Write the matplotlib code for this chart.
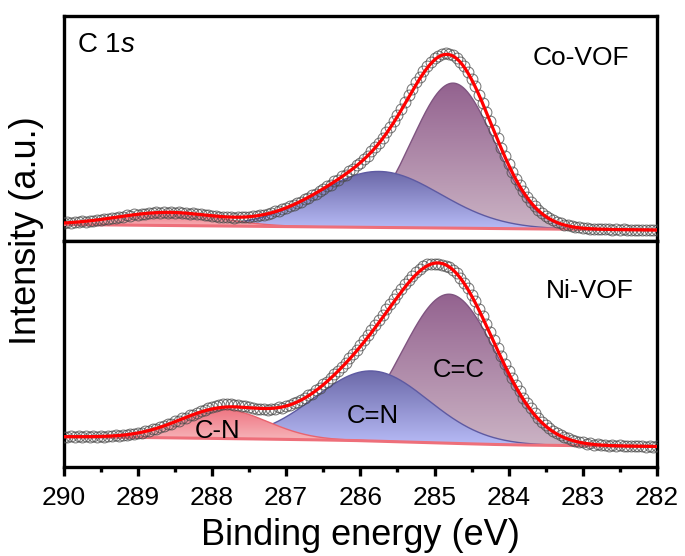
import numpy as np
import matplotlib
matplotlib.use("Agg")
import matplotlib.pyplot as plt
from matplotlib.colors import LinearSegmentedColormap
from matplotlib.path import Path
from matplotlib.ticker import MultipleLocator

plt.rcParams['font.family'] = ['Liberation Sans', 'DejaVu Sans']
plt.rcParams['mathtext.fontset'] = 'custom'
plt.rcParams['mathtext.rm'] = 'Liberation Sans'
plt.rcParams['mathtext.it'] = 'Liberation Sans:italic'

# ---- C 1s scan: binding energy grid (eV) ----
be_start, be_stop, be_step = 282.0, 290.0, 0.05

# measured intensities (a.u.), from 282.00 eV up to 290.00 eV
co_counts = [
    10.3, 10.0, 10.4, 9.9, 10.2, 10.5, 10.1, 10.4, 10.0, 10.6,
    10.3, 10.8, 10.4, 10.9, 10.6, 11.1, 10.8, 11.4, 11.2, 11.9,
    12.1, 12.8, 13.1, 13.9, 14.6, 15.4, 16.8, 18.1, 20.0, 21.9,
    24.3, 27.0, 30.5, 34.1, 38.5, 43.4, 48.6, 54.9, 61.3, 68.5,
    76.0, 84.2, 92.5, 101.6, 110.2, 119.5, 128.1, 137.2, 145.4, 153.6,
    160.8, 167.9, 173.6, 178.4, 182.3, 184.6, 186.4, 186.7, 186.1, 184.4,
    181.9, 178.5, 174.0, 169.1, 163.5, 157.6, 151.2, 144.8, 138.1, 131.5,
    125.0, 118.9, 113.0, 107.6, 102.2, 97.5, 92.6, 88.6, 84.3, 80.9,
    77.2, 74.6, 71.0, 68.9, 65.4, 63.6, 60.4, 58.8, 55.5, 54.0,
    50.9, 49.3, 46.4, 45.0, 42.4, 41.2, 38.5, 37.5, 35.0, 34.0,
    31.9, 31.0, 29.2, 28.6, 26.9, 26.5, 25.1, 25.0, 23.8, 23.9,
    23.0, 23.3, 22.6, 22.9, 22.5, 23.1, 22.8, 23.5, 23.3, 24.2,
    24.0, 25.0, 24.8, 25.9, 25.6, 26.7, 26.3, 27.3, 26.9, 27.8,
    27.3, 28.0, 27.4, 28.0, 27.3, 27.8, 26.9, 27.2, 26.2, 26.5,
    25.4, 25.6, 24.5, 24.6, 23.5, 23.5, 22.4, 22.4, 21.3, 21.4,
    20.3, 20.4, 19.3, 19.5, 18.5, 18.7, 17.8, 18.1, 17.2, 17.6,
    16.8,
]
ni_counts = [
    20.8, 20.3, 20.9, 20.4, 21.0, 20.5, 21.1, 20.6, 21.3, 20.8,
    21.5, 21.0, 21.7, 21.3, 22.1, 21.8, 22.6, 22.4, 23.5, 23.4,
    24.6, 24.7, 26.3, 26.9, 28.6, 29.8, 31.9, 33.5, 36.2, 38.6,
    41.9, 45.4, 49.3, 53.6, 58.6, 63.5, 69.2, 75.5, 81.8, 88.9,
    95.6, 103.5, 111.0, 119.2, 126.8, 135.1, 142.7, 150.9, 158.1, 165.6,
    172.2, 178.7, 184.0, 189.5, 193.6, 197.4, 199.8, 201.2, 202.0, 202.6,
    203.2, 203.5, 203.1, 200.9, 198.2, 195.0, 191.2, 187.4, 182.9, 178.1,
    173.0, 168.3, 162.8, 157.9, 152.3, 147.4, 141.9, 137.0, 131.8, 127.0,
    122.0, 117.3, 113.1, 108.6, 104.5, 100.4, 96.5, 92.6, 89.2, 85.4,
    82.5, 78.8, 76.9, 73.2, 71.9, 68.6, 67.4, 64.6, 64.1, 61.5,
    61.4, 59.4, 59.7, 58.0, 58.3, 57.4, 57.6, 57.8, 58.1, 59.0,
    59.6, 60.5, 61.0, 61.9, 62.4, 62.9, 62.6, 62.5, 61.9, 61.0,
    60.2, 58.6, 57.1, 55.6, 54.1, 52.2, 51.6, 49.2, 48.6, 46.1,
    45.8, 43.3, 42.9, 40.6, 40.2, 38.1, 37.9, 36.0, 35.9, 34.3,
    34.4, 33.0, 33.1, 32.0, 32.2, 31.2, 31.6, 30.7, 31.1, 30.4,
    30.9, 30.2, 30.7, 30.0, 30.6, 30.1, 30.5, 30.0, 30.5, 30.1,
    30.4,
]

# ---- peak fit results: C=C, C=N, C-N ----
species = ['C=C', 'C=N', 'C-N']
co_center = [284.75, 285.75, 288.60]
co_height = [145.0, 56.0, 13.0]
co_fwhm = [1.30, 1.95, 1.60]
ni_center = [284.80, 285.85, 287.85]
ni_height = [149.0, 70.0, 29.0]
ni_fwhm = [1.50, 1.80, 1.40]

# background: level at 282 eV, linear slope per eV, Shirley step height
co_background = [10.0, 0.6875, 0.0]
ni_background = [20.5, 0.75, 3.8]

fill_top = ['#93628f', '#6b68a8', '#ef7682']
fill_bottom = ['#cbb3c4', '#b8bcf7', '#f8c0c4']
edge_colors = ['#7f5480', '#5e5aa2', '#e9646f']


def gaussian(x, center, height, fwhm):
    sigma = fwhm / (2.0 * np.sqrt(2.0 * np.log(2.0)))
    return height * np.exp(-0.5 * ((x - center) / sigma) ** 2)


def gradient_fill(ax, x, lower, upper, c_bottom, c_top, z):
    verts = np.column_stack([np.r_[x, x[::-1]], np.r_[lower, upper[::-1]]])
    clip = Path(verts)
    cmap = LinearSegmentedColormap.from_list('g', [c_bottom, c_top])
    grad = np.linspace(0, 1, 256).reshape(-1, 1)
    y0, y1 = lower.min(), upper.max()
    im = ax.imshow(grad, cmap=cmap, origin='lower', aspect='auto',
                   extent=(x.min(), x.max(), y0, y1), zorder=z,
                   interpolation='bilinear')
    im.set_clip_path(clip, ax.transData)


def draw_panel(ax, counts, centers, heights, fwhms, background, ylim):
    fine = np.linspace(be_start, be_stop, 1601)
    comps = [gaussian(fine, c, h, w) for c, h, w in zip(centers, heights, fwhms)]
    total = np.sum(comps, axis=0)
    area = np.concatenate([[0.0], np.cumsum(0.5 * (total[1:] + total[:-1]) * np.diff(fine))])
    level, slope, step = background
    bg = level + slope * (fine - be_start) + step * area / area[-1]

    for i, comp in enumerate(comps):
        gradient_fill(ax, fine, bg, bg + comp, fill_bottom[i], fill_top[i], 1 + i)
        ax.plot(fine, bg + comp, color=edge_colors[i], lw=1.0, zorder=1.5 + i)
    ax.plot(fine, bg, color='#ee6f7a', lw=2.2, zorder=4)

    n = int(round((be_stop - be_start) / be_step)) + 1
    be = be_start + be_step * np.arange(n)
    ax.plot(be, counts, 'o', mfc='none', mec='#4a4a4a', ms=7.8, mew=0.75,
            alpha=0.75, zorder=5)
    ax.plot(fine, bg + total, color='#ff0000', lw=2.3, zorder=6)

    ax.set_xlim(290, 282)
    ax.set_ylim(*ylim)
    for s in ax.spines.values():
        s.set_linewidth(2.4)
    ax.tick_params(axis='y', which='both', left=False, right=False,
                   labelleft=False)


fig = plt.figure(figsize=(6.85, 5.56), dpi=100)
ax_top = fig.add_axes([0.0930, 0.5665, 0.8661, 0.4056])
ax_bot = fig.add_axes([0.0930, 0.1592, 0.8661, 0.4073])

draw_panel(ax_top, co_counts, co_center, co_height, co_fwhm, co_background,
           (-1.0, 224.5))
draw_panel(ax_bot, ni_counts, ni_center, ni_height, ni_fwhm, ni_background,
           (-0.5, 226.0))

ax_top.tick_params(axis='x', which='both', bottom=False, labelbottom=False)
ax_bot.xaxis.set_major_locator(MultipleLocator(1))
ax_bot.xaxis.set_minor_locator(MultipleLocator(0.5))
ax_bot.tick_params(axis='x', which='major', direction='out', length=6.5,
                   width=2.4, labelsize=19, pad=7)
ax_bot.tick_params(axis='x', which='minor', direction='out', length=3.6,
                   width=2.4)

ax_top.text(289.82, 188.3, r'C 1$\mathit{s}$', fontsize=20, ha='left',
            va='baseline')
ax_top.text(283.02, 175.0, 'Co-VOF', fontsize=19, ha='center', va='baseline')
ax_bot.text(282.91, 168.7, 'Ni-VOF', fontsize=19, ha='center', va='baseline')
ax_bot.text(284.67, 90.3, species[0], fontsize=18.5, ha='center',
            va='baseline', zorder=8)
ax_bot.text(285.83, 43.7, species[1], fontsize=18.5, ha='center',
            va='baseline', zorder=8)
ax_bot.text(287.92, 28.7, species[2], fontsize=18.5, ha='center',
            va='baseline', zorder=8)

fig.text(360.5 / 685, (556 - 545) / 556, 'Binding energy (eV)', fontsize=26,
         ha='center', va='baseline')
fig.text(27 / 685, 1 - 231 / 556, 'Intensity (a.u.)', fontsize=26,
         rotation=90, ha='center', va='center')

fig.savefig('out.png', dpi=100)
